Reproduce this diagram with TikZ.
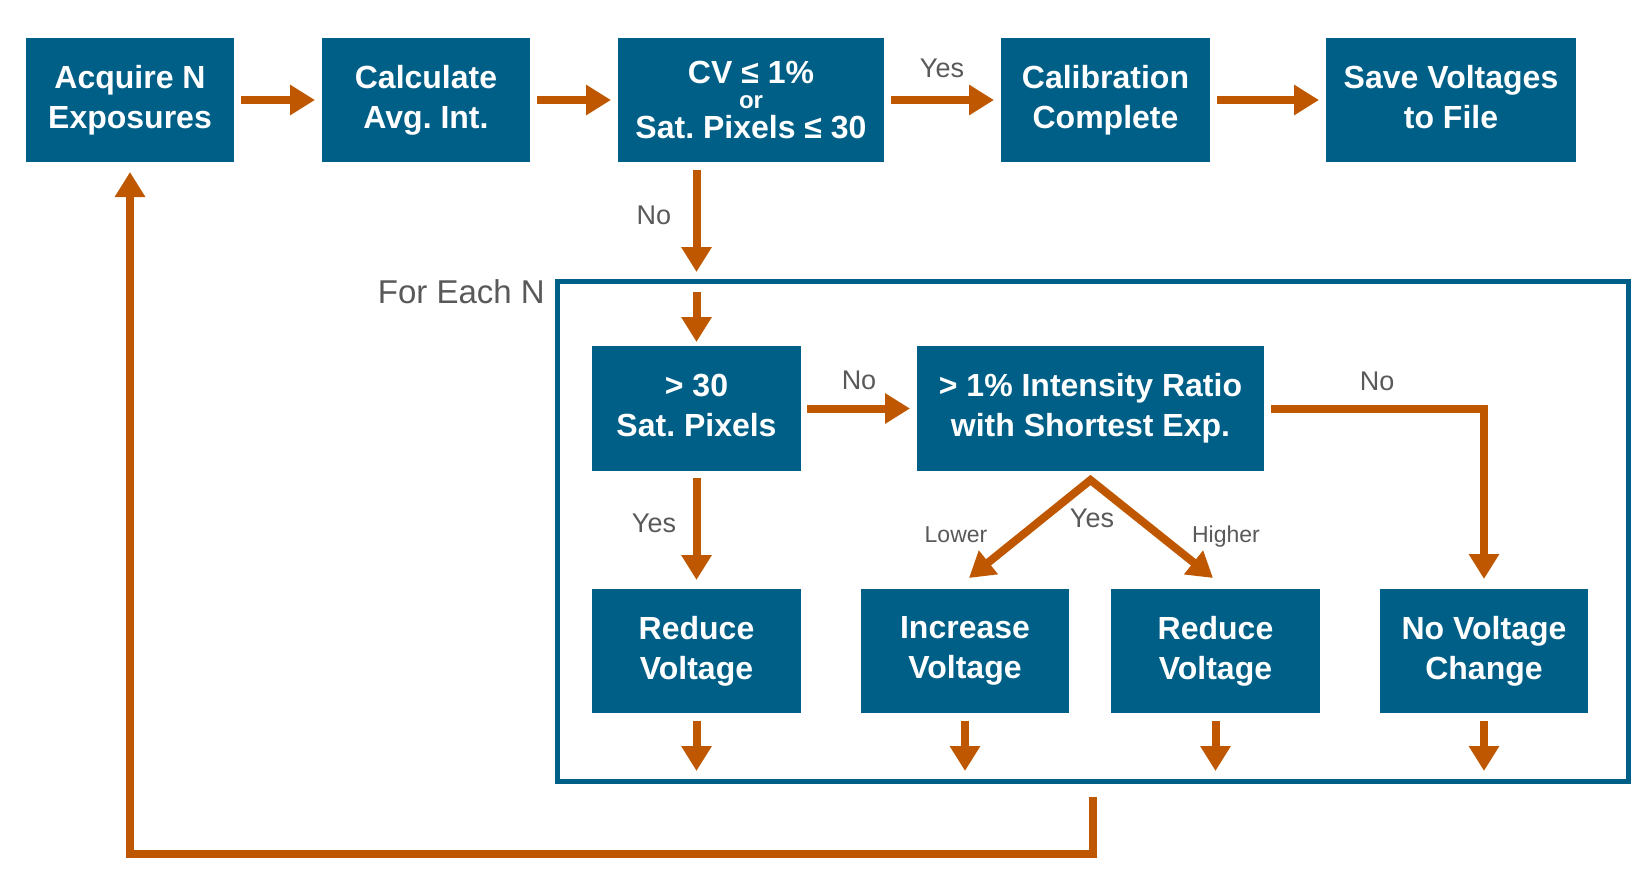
\documentclass[tikz,border=0pt]{standalone}
\usepackage{fontspec}
\setmainfont{Liberation Sans}
\usetikzlibrary{arrows.meta,calc}
\definecolor{boxblue}{RGB}{0,95,135}
\definecolor{arrorange}{RGB}{191,87,0}
\definecolor{lblgray}{RGB}{89,89,89}
\frenchspacing
\begin{document}
\begin{tikzpicture}[x=1pt,y=-1pt,
  box/.style={fill=boxblue, text=white, font=\bfseries\fontsize{32}{40}\selectfont\frenchspacing, align=center,
    minimum width=208pt, minimum height=124pt, inner sep=0pt, outer sep=0pt},
  arr/.style={draw=arrorange, line width=8pt, -{Triangle[length=25pt,width=29pt]},
    shorten <=7pt, shorten >=7pt},
  lbl/.style={text=lblgray, font=\fontsize{27}{30}\selectfont, inner sep=0pt},
  slbl/.style={text=lblgray, font=\fontsize{23}{26}\selectfont, inner sep=0pt},
  loopframe/.style={draw=boxblue, line width=5pt, minimum width=1071pt, minimum height=500pt,
    inner sep=0pt, outer sep=0pt}]
\useasboundingbox (0,0) rectangle (1650,873);

% top row
\node[box] (acq) at (130,100) {Acquire N\\Exposures};
\node[box] (calc) at (426,100) {Calculate\\Avg. Int.};
\node[box, minimum width=266pt] (cv) at (751,100)
  {CV ≤ 1\%\\[-15pt]{\fontsize{24}{24}\selectfont or}\\[-10pt]Sat. Pixels ≤ 30};
\node[box, minimum width=209pt] (cal) at (1105.5,100) {Calibration\\Complete};
\node[box, minimum width=250pt] (save) at (1451,100) {Save Voltages\\to File\vphantom{g}};

% loop frame
\node[loopframe] (loop) at (1092.5,531) {};
\node[lbl, font=\fontsize{33}{36}\selectfont, anchor=east] (foreach) at (545,292) {For Each N};

% inner boxes
\node[box, minimum width=209pt, minimum height=125pt] (sat) at (696.5,408.5) {> 30\\Sat. Pixels\vphantom{g}};
\node[box, minimum width=347pt, minimum height=125pt] (ratio) at (1090.5,408.5) {> 1\% Intensity Ratio\\with Shortest Exp.};
\node[box, minimum width=209pt] (red1) at (696.5,651) {Reduce\\Voltage};
\node[box, minimum width=208pt] (inc) at (965,651) {Increase\\Voltage};
\node[box, minimum width=209pt] (red2) at (1215.5,651) {Reduce\\Voltage};
\node[box, minimum width=208pt] (nov) at (1484,651) {No Voltage\\Change};

% top arrows
\draw[arr] (acq) -- (calc);
\draw[arr] (calc) -- (cv);
\draw[arr] (cv) -- (cal);
\draw[arr] (cal) -- (save);
\node[lbl] (yes1) at (942,68) {Yes};

% down from CV
\draw[arr, shorten <=8pt, shorten >=9pt] (cv.south -| sat.north) -- (sat |- loop.north);
\node[lbl] (no1) at (654,215) {No};
\draw[arr, shorten <=11pt, shorten >=4pt] (sat |- loop.north) -- (sat.north);

% inner arrows
\draw[arr, shorten <=6pt, shorten >=7pt] (sat) -- (ratio);
\node[lbl] (no2) at (859,380) {No};
\draw[arr, shorten <=7pt, shorten >=9pt] (sat) -- (red1);
\node[lbl] (yes2) at (654,523) {Yes};
\draw[arr, shorten <=7pt, shorten >=10pt] (ratio.east) -- (ratio.east -| nov) -- (nov.north);
\node[lbl] (no3) at (1377,381) {No};

\coordinate (apex) at ([yshift=-9pt]ratio.south);
\coordinate (tipL) at ([xshift=4pt,yshift=11pt]inc.north);
\coordinate (tipR) at ([xshift=-2.5pt,yshift=11pt]red2.north);
\draw[arr, {Triangle[length=25pt,width=29pt]}-{Triangle[length=25pt,width=29pt]},
  shorten <=0pt, shorten >=0pt, line join=miter] (tipL) -- (apex) -- (tipR);
\node[lbl] (yes3) at (1092,518) {Yes};
\node[slbl, anchor=base] (lower) at (956,542) {Lower};
\node[slbl, anchor=base] (higher) at (1226,542) {Higher};

% bottom arrows
\foreach \n in {red1,inc,red2,nov}
  \draw[arr, shorten <=8pt, shorten >=10pt] (\n) -- (\n |- loop.south);

% feedback
\coordinate (fb) at (0,854);
\draw[arr, shorten <=16pt, shorten >=10pt, line join=miter] (loop.south) -- (loop.south |- fb) -| (acq.south);
\end{tikzpicture}
\end{document}
